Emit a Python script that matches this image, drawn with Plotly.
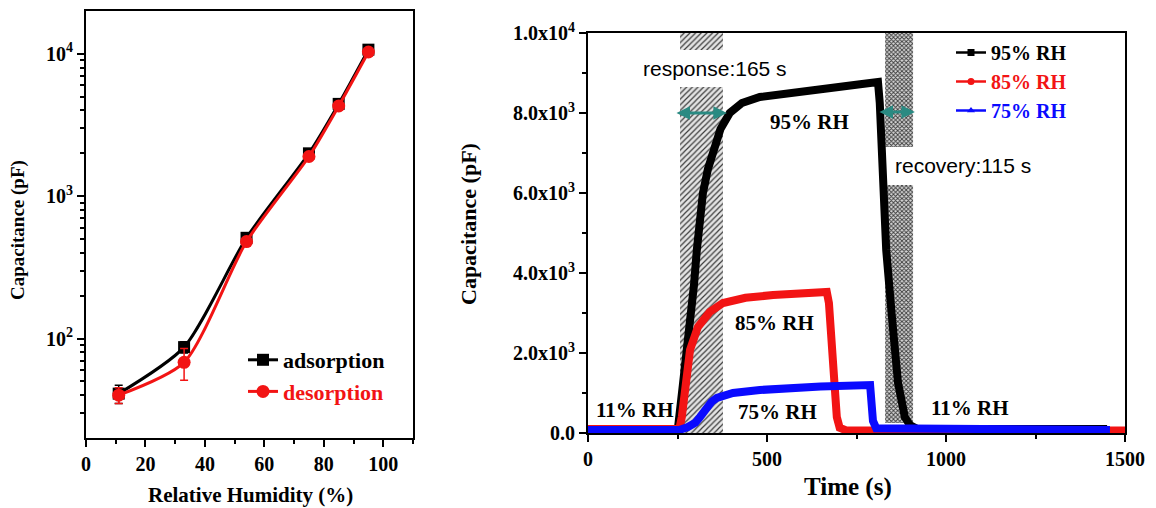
import plotly.graph_objects as go

# ---------------- Left panel data ----------------
rh = [11, 33, 54, 75, 85, 95]
ads = [41, 87, 510, 2000, 4450, 10700]
des = [40, 68, 480, 1900, 4300, 10300]
ads_err = [6, 8, 30, 120, 250, 500]
des_err = [5, 17, 30, 120, 250, 500]

left_x_ticks = [0, 20, 40, 60, 80, 100]
left_y_ticks = [100, 1000, 10000]
left_y_ticktext = ["10<sup>2</sup>", "10<sup>3</sup>", "10<sup>4</sup>"]
left_y_minor = [30, 40, 50, 60, 70, 80, 90, 200, 300, 400, 500, 600, 700, 800, 900,
                2000, 3000, 4000, 5000, 6000, 7000, 8000, 9000]

# ---------------- Right panel data ----------------
t95 = [0, 251, 265, 280, 296, 304, 312, 321, 335, 349, 370, 396, 430, 480, 540, 592,
       650, 700, 760, 810, 815, 833, 849, 866, 885, 899, 920, 1450]
c95 = [100, 100, 1200, 2300, 3700, 4575, 5400, 6000, 6600, 7075, 7600, 8000, 8250,
       8400, 8480, 8525, 8590, 8650, 8720, 8775, 8250, 4575, 2900, 1250, 400, 200, 100, 100]

t85 = [0, 255, 262, 271, 285, 307, 340, 377, 440, 517, 600, 667, 673, 685, 695, 703, 720, 1500]
c85 = [100, 100, 400, 1250, 2075, 2650, 3025, 3250, 3380, 3450, 3510, 3525, 3250,
       1250, 400, 130, 70, 60]

t75 = [0, 255, 279, 300, 313, 332, 345, 360, 405, 480, 550, 650, 788, 792, 796, 805, 1458]
c75 = [75, 75, 150, 260, 400, 650, 780, 875, 1000, 1075, 1120, 1160, 1200, 700, 300, 120, 75]

right_y_ticks = [0, 2000, 4000, 6000, 8000, 10000]
right_y_ticktext = ["0.0", "2.0x10<sup>3</sup>", "4.0x10<sup>3</sup>", "6.0x10<sup>3</sup>",
                    "8.0x10<sup>3</sup>", "1.0x10<sup>4</sup>"]
right_x_ticks = [0, 500, 1000, 1500]

response_window = [257, 377]
response_bands = [[0, 8650], [9575, 10000]]
recovery_window = [830, 908]
recovery_bands = [[250, 6200], [7150, 10000]]
response_arrow = [243, 388, 8000]
recovery_arrow = [810, 913, 8025]

RED = "#f21414"
BLUE = "#0a0aff"
TEAL = "#2a8a82"
SERIF = "Liberation Serif"
SANS = "Liberation Sans"

W, H = 1156, 508
OFF = 8  # page body margin of the browser


def px(x):
    return (x - OFF) / W


def py(y):
    return (H - (y - OFF)) / H


fig = go.Figure()

# ---- left panel traces ----
fig.add_trace(go.Scatter(
    x=rh, y=ads, mode="lines+markers", xaxis="x", yaxis="y",
    name="adsorption", legend="legend", legendgroup="a",
    line=dict(color="black", width=3, shape="spline", smoothing=0.7),
    marker=dict(symbol="square", size=12, color="black"),
    error_y=dict(type="data", array=ads_err, color="black", thickness=1.5, width=4)))
fig.add_trace(go.Scatter(
    x=rh, y=des, mode="lines+markers", xaxis="x", yaxis="y",
    name='<span style="color:%s">desorption</span>' % RED, legend="legend", legendgroup="d",
    line=dict(color=RED, width=3, shape="spline", smoothing=0.7),
    marker=dict(symbol="circle", size=13, color=RED),
    error_y=dict(type="data", array=des_err, color=RED, thickness=1.5, width=4)))

# ---- right panel hatched windows ----
def band_trace(window, band, pattern):
    t0, t1 = window
    lo, hi = band
    return go.Scatter(x=[t0, t1, t1, t0, t0], y=[lo, lo, hi, hi, lo], xaxis="x2", yaxis="y2",
                      mode="lines", fill="toself", line=dict(width=0),
                      fillcolor="rgba(0,0,0,0)", fillpattern=pattern,
                      showlegend=False, hoverinfo="skip")

resp_pat = dict(shape="/", size=4, solidity=0.3, fgcolor="#3c3c3c", bgcolor="#e4e4e4")
rec_pat = dict(shape="x", size=3, solidity=0.5, fgcolor="#3a3a3a", bgcolor="#d8d8d8")
for b in response_bands:
    fig.add_trace(band_trace(response_window, b, resp_pat))
for b in recovery_bands:
    fig.add_trace(band_trace(recovery_window, b, rec_pat))

# ---- right panel data traces ----
series = [(t95, c95, "black", "square", "95% RH"),
          (t85, c85, RED, "circle", "85% RH"),
          (t75, c75, BLUE, "triangle-up", "75% RH")]
for i, (tt, cc, col, sym, nm) in enumerate(series):
    fig.add_trace(go.Scatter(x=tt, y=cc, mode="lines", xaxis="x2", yaxis="y2",
                             line=dict(color=col, width=8), showlegend=False, hoverinfo="skip"))
for i, (tt, cc, col, sym, nm) in enumerate(series):
    fig.add_trace(go.Scatter(x=[None], y=[None], mode="lines+markers", xaxis="x2", yaxis="y2",
                             name='<span style="color:%s">%s</span>' % (col, nm),
                             legend="legend2", legendgroup="r%d" % i,
                             line=dict(color=col, width=2.5),
                             marker=dict(symbol=sym, size=7, color=col)))

tickfont = dict(family=SERIF, size=20, color="black", weight="bold")
axis_common = dict(showline=True, linecolor="black", linewidth=2, mirror=True,
                   ticks="outside", tickcolor="black", tickwidth=2, ticklen=7,
                   showgrid=False, zeroline=False, tickfont=tickfont, automargin=False)

fig.update_layout(
    template="none",
    width=W, height=H, margin=dict(l=0, r=0, t=0, b=0, pad=0), autosize=False,
    paper_bgcolor="white", plot_bgcolor="white",
    xaxis=dict(domain=[px(86), px(413)], range=[0, 110], anchor="y",
               tickvals=left_x_ticks,
               minor=dict(dtick=10, ticks="outside", ticklen=4, tickwidth=2, tickcolor="black"),
               **axis_common),
    yaxis=dict(domain=[py(438), py(11)], type="log",
               range=[1.301, 4.301], anchor="x",
               tickvals=left_y_ticks, ticktext=left_y_ticktext,
               minor=dict(tickmode="array", tickvals=left_y_minor, ticks="outside",
                          ticklen=4, tickwidth=1.5, tickcolor="black"),
               **axis_common),
    xaxis2=dict(domain=[px(588), px(1125)], range=[0, 1500], anchor="y2",
                tickvals=right_x_ticks,
                minor=dict(dtick=250, ticks="outside", ticklen=4, tickwidth=2, tickcolor="black"),
                **axis_common),
    yaxis2=dict(domain=[py(433), py(33)], range=[0, 10000], anchor="x2",
                tickvals=right_y_ticks, ticktext=right_y_ticktext,
                minor=dict(dtick=1000, ticks="outside", ticklen=4, tickwidth=2, tickcolor="black"),
                **axis_common),
    legend=dict(x=px(243), y=py(339), xanchor="left", yanchor="top",
                bgcolor="rgba(0,0,0,0)", traceorder="grouped", tracegroupgap=0,
                font=dict(family=SERIF, size=22, color="black", weight="bold")),
    legend2=dict(x=px(951), y=py(33), xanchor="left", yanchor="top",
                 bgcolor="rgba(0,0,0,0)", traceorder="grouped", tracegroupgap=0,
                 font=dict(family=SERIF, size=20, color="black", weight="bold")),
    showlegend=True,
)

ann = []
# axis titles
title_specs = [("Capacitance (pF)", 18, 230, -90, 19),
               ("Relative Humidity (%)", 250, 495, 0, 21),
               ("Capacitance (pF)", 468, 224, -90, 22),
               ("Time (s)", 848, 487, 0, 25)]
for txt, tx, ty, ang, fs in title_specs:
    ann.append(dict(text=txt, x=px(tx), y=py(ty), xref="paper", yref="paper",
                    xanchor="center", yanchor="middle", textangle=ang, showarrow=False,
                    font=dict(family=SERIF, size=fs, color="black", weight="bold")))

# right-panel labels
lab_font = dict(family=SERIF, size=21, color="black", weight="bold")
for txt, tx, cy in [("95% RH", 619, 7775), ("85% RH", 522, 2750), ("75% RH", 528, 525),
                    ("11% RH", 131, 575), ("11% RH", 1067, 625)]:
    ann.append(dict(text=txt, x=tx, y=cy, xref="x2", yref="y2", showarrow=False,
                    xanchor="center", yanchor="middle", font=lab_font))
ann.append(dict(text="response:165 s", x=355, y=9125, xref="x2", yref="y2", showarrow=False,
                xanchor="center", yanchor="middle",
                font=dict(family=SANS, size=21, color="black")))
ann.append(dict(text="recovery:115 s", x=1048, y=6700, xref="x2", yref="y2", showarrow=False,
                xanchor="center", yanchor="middle",
                font=dict(family=SANS, size=21, color="black")))
# double arrows
for a0, a1, ay in [response_arrow, recovery_arrow]:
    ann.append(dict(x=a1, y=ay, ax=a0, ay=ay, xref="x2", yref="y2", axref="x2", ayref="y2",
                    text="", showarrow=True, arrowhead=2, arrowside="end+start",
                    arrowsize=0.9, arrowwidth=3, arrowcolor=TEAL))
fig.update_layout(annotations=ann)

fig.write_html("out.html")
